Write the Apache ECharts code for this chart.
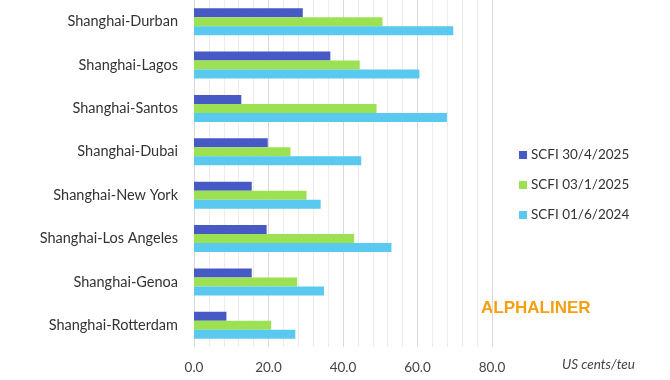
<!DOCTYPE html>
<html>
<head>
<meta charset="utf-8">
<script src="https://cdn.jsdelivr.net/npm/echarts@6/dist/echarts.min.js"></script>
<style>html,body{margin:0;padding:0;background:#fff}#c{width:670px;height:380px}</style>
</head>
<body>
<div id="c"></div>
<script>
var categories = ["Shanghai-Durban","Shanghai-Lagos","Shanghai-Santos","Shanghai-Dubai","Shanghai-New York","Shanghai-Los Angeles","Shanghai-Genoa","Shanghai-Rotterdam"];
var seriesNames = ["SCFI 30/4/2025","SCFI 03/1/2025","SCFI 01/6/2024"];
var scfi20250430 = [29.2, 36.6, 12.7, 19.8, 15.5, 19.5, 15.5, 8.7];
var scfi20250103 = [50.6, 44.5, 49.0, 25.9, 30.2, 43.0, 27.7, 20.7];
var scfi20240601 = [69.6, 60.5, 67.9, 44.9, 34.0, 53.0, 34.9, 27.2];
var xTicks = ["0.0","20.0","40.0","60.0","80.0"];
var colors = ["#4659c4","#9be152","#5ac9ef"];
var font = "Lato, 'Open Sans', sans-serif";

var chart = echarts.init(document.getElementById('c'));
var data = [scfi20250430, scfi20250103, scfi20240601];
chart.setOption({
  animation: false,
  grid: {left: 194, right: 178, top: 0, bottom: 33, containLabel: false},
  legend: {
    orient: 'vertical', left: 514, top: 143, itemGap: 16,
    itemWidth: 8, itemHeight: 8, icon: 'rect',
    textStyle: {fontFamily: font, fontSize: 13.5, color: '#333', padding: [0,0,0,-1]},
    data: seriesNames
  },
  xAxis: {
    type: 'value', min: 0, max: 80, interval: 20,
    axisLine: {show: false}, axisTick: {show: false},
    axisLabel: {fontFamily: font, fontSize: 13.5, color: '#444', margin: 14,
      formatter: function(v){ return xTicks[Math.round(v/20)]; }},
    splitLine: {show: true, lineStyle: {color: '#d9d9d9', width: 1}},
    minorTick: {show: false, splitNumber: 5},
    minorSplitLine: {show: true, lineStyle: {color: '#ececec', width: 1}}
  },
  yAxis: {
    type: 'category', data: categories, inverse: true,
    axisLine: {show: true, lineStyle: {color: '#d9d9d9'}},
    axisTick: {show: false},
    axisLabel: {fontFamily: font, fontSize: 14.5, color: '#333', margin: 16}
  },
  graphic: [
    {type: 'text', left: 481, top: 300, style: {text: 'ALPHALINER', fill: '#f5a010', font: "bold 17px 'Liberation Sans', Arial, sans-serif"}},
    {type: 'text', left: 562, top: 358, style: {text: 'US cents/teu', fill: '#444', font: "italic 13.5px " + font}}
  ],
  series: seriesNames.map(function(n, i){
    return {name: n, type: 'bar', data: data[i], barGap: '0%', barCategoryGap: '38%',
      itemStyle: {color: colors[i]}};
  })
});
</script>
</body>
</html>
